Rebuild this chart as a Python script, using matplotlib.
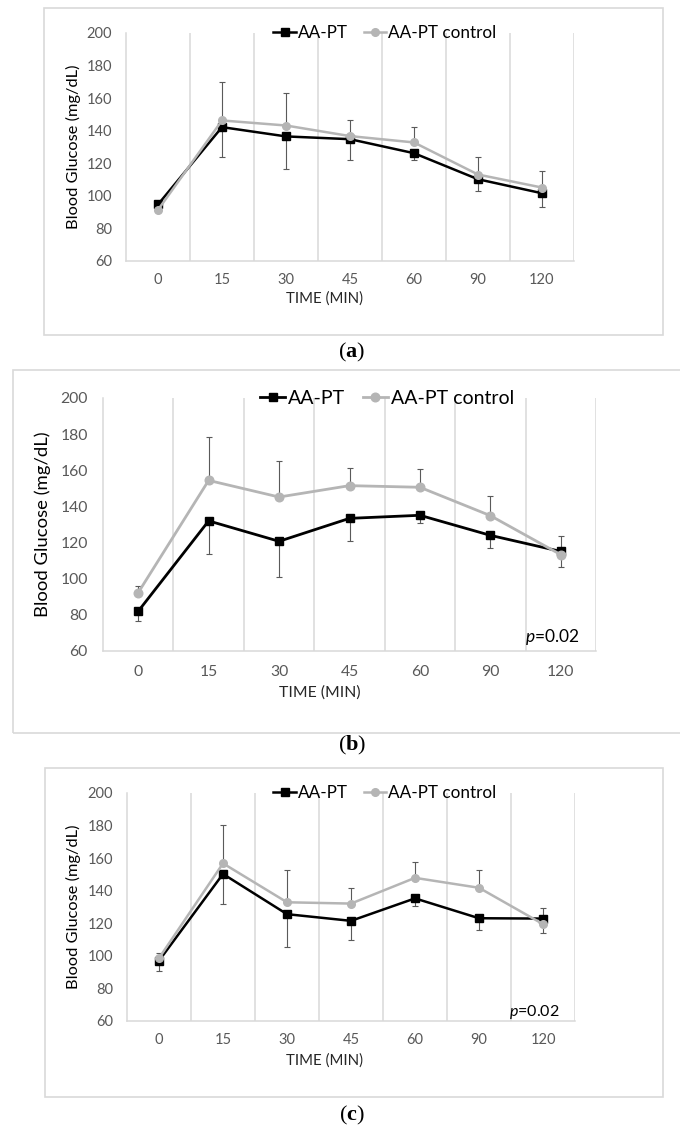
import numpy as np
import matplotlib as mpl
import matplotlib.pyplot as plt
from matplotlib.patches import Rectangle
from matplotlib.lines import Line2D

mpl.rcParams['font.family'] = ['Lato', 'DejaVu Sans']
mpl.rcParams['mathtext.fontset'] = 'custom'
mpl.rcParams['mathtext.rm'] = 'Lato'
mpl.rcParams['mathtext.it'] = 'Lato:italic'
mpl.rcParams['mathtext.bf'] = 'Liberation Serif:bold'

times = ['0', '15', '30', '45', '60', '90', '120']
yticks = [60, 80, 100, 120, 140, 160, 180, 200]

# panel (a)
a_aapt = [94.7, 142.2, 136.5, 134.8, 126.2, 110.2, 101.6]
a_ctrl = [91.4, 146.3, 143.2, 136.7, 132.8, 113.1, 105.1]
a_aapt_sd = [4.9, 18.6, 19.9, 12.5, 4.0, 7.1, 8.4]    # drawn downward
a_ctrl_sd = [1.5, 23.6, 19.7, 9.6, 9.6, 10.7, 9.9]    # drawn upward

# panel (b)
b_aapt = [82.0, 132.0, 120.7, 133.4, 135.1, 124.0, 115.1]
b_ctrl = [92.3, 154.4, 145.2, 151.5, 150.6, 134.9, 113.3]
b_aapt_sd = [5.6, 18.5, 19.8, 12.6, 4.1, 7.2, 8.8]
b_ctrl_sd = [3.8, 23.8, 19.9, 9.8, 10.1, 10.9, 10.6]

# panel (c)
c_aapt = [97.0, 150.3, 125.6, 121.5, 135.3, 123.1, 122.9]
c_ctrl = [98.6, 156.8, 132.9, 132.1, 147.9, 141.8, 119.5]
c_aapt_sd = [6.0, 18.7, 19.9, 12.0, 4.5, 7.5, 9.0]
c_ctrl_sd = [3.0, 23.7, 19.8, 9.7, 9.7, 10.9, 9.9]

W, H = 680, 1133
BLACK = '#000000'
GREY = '#b5b5b5'
GRID = '#d9d9d9'
TICK = '#595959'
ERR = '#5a5a5a'

fig = plt.figure(figsize=(W / 100, H / 100), dpi=100)


def fx(x):
    return x / W


def fy(y):
    return 1 - y / H


def panel(plot, frame, aapt, ctrl, aapt_sd, ctrl_sd, fs, lw, ms,
          leg_xy, ylab_x, xlab_xy, pval_xy=None):
    x0, y0, x1, y1 = plot
    ax = fig.add_axes([fx(x0), fy(y1), (x1 - x0) / W, (y1 - y0) / H])
    x = np.arange(len(times))
    zeros = np.zeros(len(times))

    ax.errorbar(x, ctrl, yerr=[zeros, ctrl_sd], fmt='none', ecolor=ERR,
                elinewidth=0.8, capsize=2.2, capthick=0.8, zorder=2)
    ax.errorbar(x, aapt, yerr=[aapt_sd, zeros], fmt='none', ecolor=ERR,
                elinewidth=0.8, capsize=2.2, capthick=0.8, zorder=2)
    ax.plot(x, aapt, color=BLACK, lw=lw, marker='s', ms=ms, zorder=3)
    ax.plot(x, ctrl, color=GREY, lw=lw, marker='o', ms=ms, zorder=4)

    ax.set_xlim(-0.5, 6.5)
    ax.set_ylim(60, 200)
    ax.set_xticks(x)
    ax.set_xticklabels(times)
    ax.set_yticks(yticks)
    ax.set_xticks(np.arange(0.5, 7, 1), minor=True)
    ax.grid(axis='x', which='minor', color=GRID, lw=1.1)
    ax.tick_params(which='both', length=0)
    ax.tick_params(axis='x', pad=fs['tickpad'], labelsize=fs['tick'], colors=TICK)
    ax.tick_params(axis='y', pad=fs['ytickpad'], labelsize=fs['tick'], colors=TICK)
    for s in ['top', 'right']:
        ax.spines[s].set_visible(False)
    for s in ['left', 'bottom']:
        ax.spines[s].set_color(GRID)
        ax.spines[s].set_linewidth(1.1)
    ax.spines['left'].set_zorder(0)

    handles = [Line2D([], [], color=BLACK, lw=lw, marker='s', ms=ms),
               Line2D([], [], color=GREY, lw=lw, marker='o', ms=ms)]
    fig.legend(handles, ['AA-PT', 'AA-PT control'], loc='center',
               bbox_to_anchor=(fx(leg_xy[0]), fy(leg_xy[1])), ncol=2,
               frameon=False, fontsize=fs['legend'], handlelength=1.3,
               handletextpad=0.15, columnspacing=0.9, borderpad=0)

    fig.text(fx(ylab_x), fy((y0 + y1) / 2), 'Blood Glucose (mg/dL)', rotation=90,
             ha='center', va='center', fontsize=fs['label'], color=BLACK)
    fig.text(fx(xlab_xy[0]), fy(xlab_xy[1]), 'TIME (MIN)', ha='center', va='center',
             fontsize=fs['xlabel'], color='#262626')
    if pval_xy is not None:
        fig.text(fx(pval_xy[0]), fy(pval_xy[1]), r'$p$=0.02', ha='right', va='center',
                 fontsize=fs['p'], color=BLACK)

    fx0, fy0, fx1, fy1 = frame
    fig.add_artist(Rectangle((fx(fx0), fy(fy1)), (fx1 - fx0) / W, (fy1 - fy0) / H,
                             transform=fig.transFigure, fill=False, ec=GRID, lw=1.2))
    return ax


fs_small = dict(tick=10.5, tickpad=9, ytickpad=10, legend=12.3, label=11.8, xlabel=10.8, p=11.5)
fs_big = dict(tick=11.3, tickpad=10, ytickpad=11, legend=14, label=13.3, xlabel=11.3, p=12.5)

panel((126, 33, 574, 261), (44, 8, 663, 335), a_aapt, a_ctrl, a_aapt_sd, a_ctrl_sd,
      fs_small, 1.8, 5.5, (385, 33), 73, (324, 299))
panel((103, 398, 596, 651), (13, 370, 684, 733), b_aapt, b_ctrl, b_aapt_sd, b_ctrl_sd,
      fs_big, 2.0, 6.2, (387, 398), 43, (320, 693), pval_xy=(580, 637))
panel((127, 793, 575, 1021), (45, 768, 663, 1097), c_aapt, c_ctrl, c_aapt_sd, c_ctrl_sd,
      fs_small, 1.8, 5.5, (385, 793), 73, (324, 1061), pval_xy=(560, 1012))

for lab, y in [('a', 352), ('b', 745), ('c', 1115)]:
    fig.text(fx(352), fy(y), r'($\mathbf{' + lab + '}$)', ha='center', va='center',
             fontsize=16, family='Liberation Serif')

fig.savefig('out.png', dpi=100)
